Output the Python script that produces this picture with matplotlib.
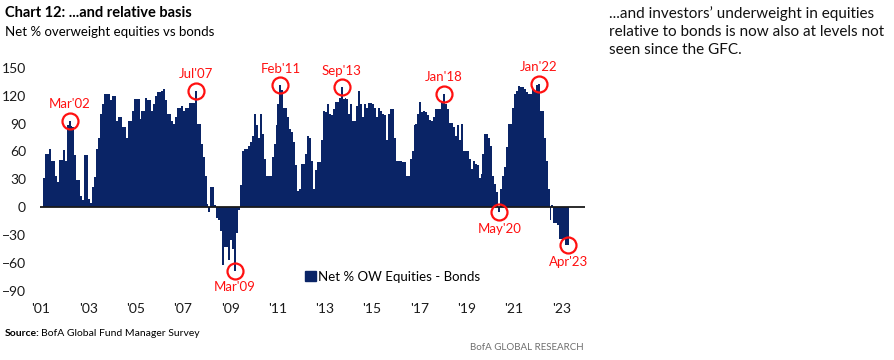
import matplotlib
matplotlib.use("Agg")
import matplotlib.pyplot as plt
from matplotlib.patches import Patch
import numpy as np

# Net % OW equities vs bonds, monthly, Feb 2001 .. Apr 2023
first_year, first_month = 2001, 2
vals_2001 = [31, 57, 57, 63, 50, 50, 34, 27, 51, 51, 62]
vals_2002 = [50, 88, 93, 87, 86, 56, 29, 29, 12, 8, 56, 56]
vals_2003 = [9, 5, 22, 33, 63, 75, 100, 111, 122, 122, 122, 115]
vals_2004 = [120, 120, 93, 97, 97, 86, 86, 75, 93, 93, 104, 116]
vals_2005 = [116, 116, 95, 104, 104, 118, 115, 115, 104, 111, 120, 124]
vals_2006 = [124, 125, 127, 115, 100, 100, 93, 90, 97, 107, 107, 109]
vals_2007 = [104, 107, 107, 112, 112, 112, 125, 90, 90, 68, 54, 34]
vals_2008 = [4, -5, 22, 22, 2, -12, -14, -25, -62, -43, -43, -57]
vals_2009 = [-35, -45, -68, -28, -3, 24, 61, 63, 63, 66, 70, 77]
vals_2010 = [100, 88, 75, 100, 79, 52, 34, 34, 34, 54, 68, 88]
vals_2011 = [111, 131, 126, 107, 107, 97, 84, 81, 70, 45, 18, 20]
vals_2012 = [47, 47, 57, 77, 74, 50, 20, 40, 49, 49, 72, 104]
vals_2013 = [102, 111, 100, 99, 106, 113, 113, 118, 129, 116, 118, 116]
vals_2014 = [100, 111, 93, 93, 109, 125, 111, 97, 111, 107, 112, 112]
vals_2015 = [111, 107, 97, 107, 104, 100, 99, 72, 100, 106, 106, 74]
vals_2016 = [50, 50, 50, 49, 49, 34, 34, 52, 61, 88, 90, 100]
vals_2017 = [113, 102, 104, 102, 99, 94, 93, 97, 106, 106, 106, 113]
vals_2018 = [122, 111, 106, 91, 91, 86, 77, 88, 72, 90, 61, 61]
vals_2019 = [61, 52, 41, 50, 47, 45, 31, 36, 57, 79, 79, 75]
vals_2020 = [66, 34, 25, 16, -5, 20, 34, 43, 65, 90, 90, 107]
vals_2021 = [122, 125, 130, 129, 129, 127, 124, 122, 122, 127, 124, 131]
vals_2022 = [133, 104, 104, 74, 50, 20, -14, 2, -17, -17, -19, -34]
vals_2023 = [-34, -34, -40, -41]

# callouts: label, year, month, above (1) / below (-1)
callouts = [("Mar'02", 2002, 3, 1), ("Jul'07", 2007, 7, 1), ("Mar'09", 2009, 3, -1),
            ("Feb'11", 2011, 2, 1), ("Sep'13", 2013, 9, 1), ("Jan'18", 2018, 1, 1),
            ("May'20", 2020, 5, -1), ("Jan'22", 2022, 1, 1), ("Apr'23", 2023, 4, -1)]

year_ticks = list(range(2001, 2024, 2))
y_ticks = [-90, -60, -30, 0, 30, 60, 90, 120, 150]

NAVY = "#0a2466"
RED = "#ff1010"
plt.rcParams["font.family"] = ["Lato", "DejaVu Sans"]

vals = np.array(vals_2001 + vals_2002 + vals_2003 + vals_2004 + vals_2005 + vals_2006
                + vals_2007 + vals_2008 + vals_2009 + vals_2010 + vals_2011 + vals_2012
                + vals_2013 + vals_2014 + vals_2015 + vals_2016 + vals_2017 + vals_2018
                + vals_2019 + vals_2020 + vals_2021 + vals_2022 + vals_2023, dtype=float)
t0 = first_year + (first_month - 1) / 12
t = t0 + np.arange(len(vals)) / 12          # left edge of each monthly bar

fig = plt.figure(figsize=(8.95, 3.6), dpi=100)
ax = fig.add_axes([40 / 895, 1 - 300.3 / 360, 545 / 895, 241.8 / 360])
ax.bar(t, vals, width=1 / 12, align="edge", color=NAVY, linewidth=0)
ax.axhline(0, color="#1a1a1a", lw=1.3, zorder=3)
ax.set_xlim(2000.96, 2024.0)
ax.set_ylim(-100, 160)
for s in ax.spines.values():
    s.set_visible(False)
ax.set_xticks(year_ticks)
ax.set_xticklabels([f"'{y % 100:02d}" for y in year_ticks])
ax.set_yticks(y_ticks)
ax.tick_params(axis="both", length=0, labelsize=10, colors="#1a1a1a")
ax.tick_params(axis="y", pad=10)
ax.tick_params(axis="x", pad=2)

for lab, yr, mo, side in callouts:
    i = (yr - first_year) * 12 + (mo - first_month)
    xc, yc = t[i] + 1 / 24, vals[i]
    ax.plot(xc, yc, "o", ms=11.5, mfc="none", mec=RED, mew=1.6, zorder=4)
    ax.annotate(lab, (xc, yc), xytext=(0, 12 * side), textcoords="offset points",
                ha="center", va="center", color=RED, fontsize=9.5)

ax.legend(handles=[Patch(color=NAVY, label="Net % OW Equities - Bonds")],
          loc="center left", bbox_to_anchor=(305 / 895, 1 - 277 / 360),
          bbox_transform=fig.transFigure, frameon=False, fontsize=9.5,
          handlelength=0.8, handleheight=0.8, handletextpad=0.2,
          borderpad=0, borderaxespad=0)

fig.text(5 / 895, 1 - 13 / 360, "Chart 12: ...and relative basis", fontsize=10.5,
         fontweight="bold", va="center", ha="left")
fig.text(5 / 895, 1 - 32 / 360, "Net % overweight equities vs bonds", fontsize=9.5,
         va="center", ha="left")
fig.text(609 / 895, 1 - 6 / 360,
         "...and investors\u2019 underweight in equities\nrelative to bonds is now also at levels not\nseen since the GFC.",
         fontsize=11, va="top", ha="left", linespacing=1.35, color="#111111")
fig.text(5 / 895, 1 - 333 / 360, "Source:", fontsize=7.5, fontweight="bold", va="center")
fig.text(41 / 895, 1 - 333 / 360, "BofA Global Fund Manager Survey", fontsize=7.5, va="center")
fig.text(584 / 895, 1 - 347 / 360, "BofA GLOBAL RESEARCH", fontsize=7, va="center",
         ha="right", color="#6e6e6e")

fig.savefig("out.png", dpi=100)
